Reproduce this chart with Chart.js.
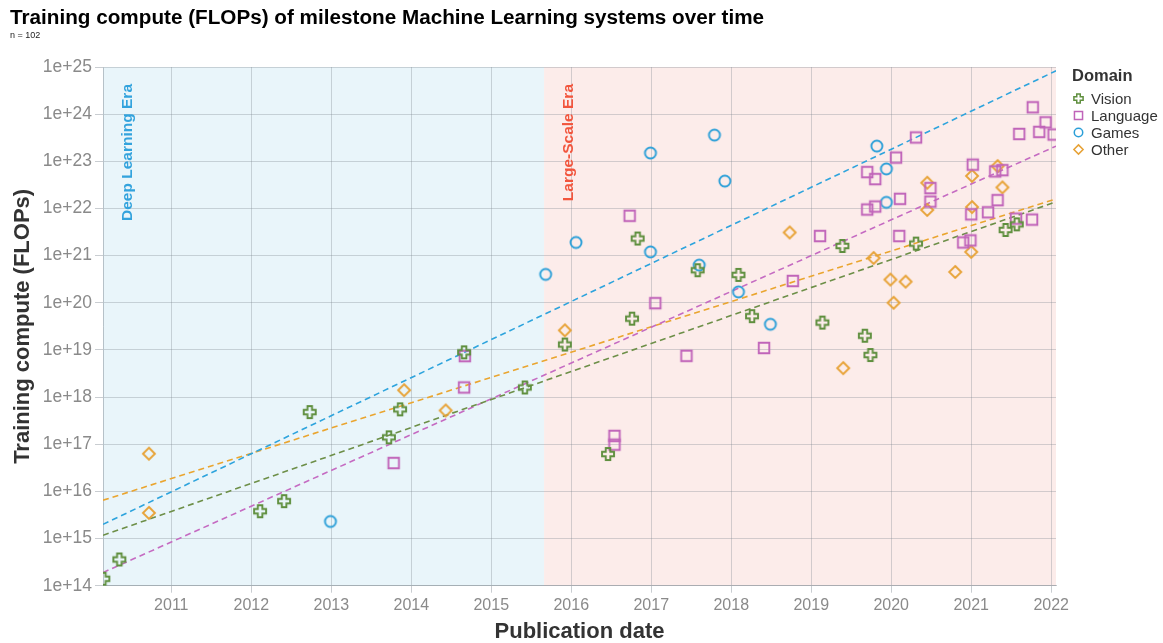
<!DOCTYPE html>
<html><head><meta charset="utf-8">
<script src="https://cdn.jsdelivr.net/npm/chart.js@4/dist/chart.umd.min.js"></script>
<style>
body{margin:0;background:#fff;font-family:"Liberation Sans",Arial,sans-serif;}
#wrap{position:relative;width:1163px;height:643px;overflow:hidden;}
#chart{position:absolute;left:0;top:0;}
#title{position:absolute;left:10px;top:5px;font-weight:bold;font-size:20.7px;color:#000;white-space:nowrap;}
#sub{position:absolute;left:10px;top:30px;font-size:9px;color:#222;}
#legend{position:absolute;left:1072px;top:65px;color:#333;}
#legend .h{font-weight:bold;font-size:16.5px;height:20px;line-height:20px;margin-bottom:5px;color:#333;}
#legend .it{position:relative;height:17px;line-height:17px;font-size:15px;padding-left:19px;white-space:nowrap;}
#legend canvas{position:absolute;left:0;top:2px;}
</style></head>
<body><div id="wrap">
<canvas id="chart" width="1163" height="643"></canvas>
<div id="title">Training compute (FLOPs) of milestone Machine Learning systems over time</div>
<div id="sub">n = 102</div>
<div id="legend"><div class="h">Domain</div></div>
</div>
<script>
// ---- data (publication date as decimal year, training compute in FLOPs) ----
const domains = ['Vision','Language','Games','Other'];
const visionX = [2010.15,2010.35,2012.11,2012.41,2012.73,2013.72,2013.86,2014.66,2015.42,2015.92,2016.46,2016.76,2016.83,2017.58,2018.09,2018.26,2019.14,2019.39,2019.67,2019.74,2020.31,2021.43,2021.57];
const visionY = [1.4e14,3.6e14,3.8e15,6.2e15,4.8e17,1.4e17,5.5e17,8.9e18,1.6e18,1.3e19,6.2e16,4.6e19,2.3e21,4.9e20,3.9e20,5.2e19,3.8e19,1.6e21,2.0e19,7.8e18,1.8e21,3.5e21,4.6e21];
const languageX = [2013.78,2014.67,2014.66,2016.54,2016.54,2016.73,2017.05,2017.44,2018.41,2018.77,2019.11,2019.70,2019.80,2019.70,2019.80,2020.06,2020.11,2020.10,2020.31,2020.49,2020.49,2020.90,2020.99,2021.00,2021.02,2021.21,2021.30,2021.39,2021.33,2021.56,2021.76,2021.60,2021.77,2021.85,2021.93,2022.03];
const languageY = [4e16,7.4e18,1.6e18,1.5e17,9.8e16,7e21,9.8e19,7.5e18,1.1e19,2.9e20,2.6e21,5.9e22,4.2e22,9.5e21,1.1e22,1.2e23,1.6e22,2.6e21,3.2e23,2.7e22,1.4e22,1.9e21,2.1e21,7.5e21,8.5e22,8.3e21,6.1e22,6.5e22,1.5e22,6.1e21,5.8e21,3.8e23,1.4e24,4.2e23,6.7e23,3.7e23];
const gamesX = [2012.99,2015.68,2016.06,2016.99,2016.99,2017.60,2017.79,2017.92,2018.09,2018.49,2019.82,2019.94,2019.94];
const gamesY = [2.3e15,4e20,1.9e21,1.5e23,1.2e21,6.3e20,3.6e23,3.8e22,1.7e20,3.5e19,2.1e23,6.9e22,1.35e22];
const otherX = [2010.72,2010.72,2013.91,2014.43,2015.92,2018.73,2019.40,2019.78,2019.99,2020.18,2020.03,2020.45,2020.45,2020.80,2021.01,2021.33,2021.39,2021.01,2021.00];
const otherY = [6.3e16,3.5e15,1.4e18,5.2e17,2.6e19,3.1e21,4.1e18,8.9e20,3.1e20,2.8e20,1.0e20,3.5e22,9.3e21,4.5e20,4.9e22,7.9e22,2.8e22,1.07e22,1.2e21];
// trend line end values at the left and right edge of the plot
const trendX = [2010.146, 2022.06];
const visionTrend = [1.17e15, 1.38e22];
const languageTrend = [1.9e14, 2.1e23];
const gamesTrend = [2.0e15, 8.3e24];
const otherTrend = [6.5e15, 1.6e22];
// axes
const xTickValues = [2011,2012,2013,2014,2015,2016,2017,2018,2019,2020,2021,2022];
const xTickLabels = ['2011','2012','2013','2014','2015','2016','2017','2018','2019','2020','2021','2022'];
const yTickValues = [1e14,1e15,1e16,1e17,1e18,1e19,1e20,1e21,1e22,1e23,1e24,1e25];
const yTickLabels = ['1e+14','1e+15','1e+16','1e+17','1e+18','1e+19','1e+20','1e+21','1e+22','1e+23','1e+24','1e+25'];
const eraBoundary = 2015.66;
const eras = ['Deep Learning Era','Large-Scale Era'];

// ---- styles ----
const COL = {Vision:'#5f8f3e', Language:'#c064b9', Games:'#2b9fd8', Other:'#e7a236'};
const TREND = {Vision:'#6d8f48', Language:'#c56bc2', Games:'#2ea4dd', Other:'#eaa52f'};

function marker(kind, color, s, lw){
  const c = document.createElement('canvas');
  const n = Math.ceil(s*2+lw*2+2);
  c.width = n; c.height = n;
  const g = c.getContext('2d');
  g.translate(n/2, n/2);
  g.strokeStyle = color; g.lineWidth = lw; g.lineJoin='miter';
  g.beginPath();
  if(kind==='Vision'){
    const L=s, a=s*0.38;
    const p=[[-a,-L],[a,-L],[a,-a],[L,-a],[L,a],[a,a],[a,L],[-a,L],[-a,a],[-L,a],[-L,-a],[-a,-a]];
    g.moveTo(p[0][0],p[0][1]); for(let i=1;i<p.length;i++) g.lineTo(p[i][0],p[i][1]); g.closePath();
  } else if(kind==='Language'){
    const h=s*0.88; g.rect(-h,-h,2*h,2*h);
  } else if(kind==='Games'){
    g.arc(0,0,s*0.92,0,Math.PI*2);
  } else {
    const h=s*1.0; g.moveTo(0,-h); g.lineTo(h,0); g.lineTo(0,h); g.lineTo(-h,0); g.closePath();
  }
  g.stroke();
  return c;
}

const pts = (xs, ys) => xs.map((x,i)=>({x:x, y:ys[i]}));
const series = {Vision:[visionX,visionY], Language:[languageX,languageY], Games:[gamesX,gamesY], Other:[otherX,otherY]};
const trends = {Vision:visionTrend, Language:languageTrend, Games:gamesTrend, Other:otherTrend};

const datasets = [];
domains.forEach(d=>{
  datasets.push({type:'scatter', label:d, data:pts(series[d][0], series[d][1]),
    pointStyle: marker(d, COL[d], 6, 1.9), pointRadius:6, clip:0, order:1});
});
domains.forEach(d=>{
  datasets.push({type:'line', label:d+' trend', data:pts(trendX, trends[d]),
    borderColor:TREND[d], borderWidth:1.6, borderDash:[6,4], pointRadius:0, fill:false, order:5});
});

// legend
const leg = document.getElementById('legend');
domains.forEach(d=>{
  const it = document.createElement('div'); it.className='it';
  const m = marker(d, COL[d], 4.6, 1.5);
  m.style.left = (6 - m.width/2) + 'px'; m.style.top = (8.5 - m.height/2) + 'px';
  it.appendChild(m);
  it.appendChild(document.createTextNode(d));
  leg.appendChild(it);
});

const eraPlugin = {
  id:'eras',
  beforeDraw(chart){
    const {ctx, chartArea:a, scales:{x}} = chart;
    const bx = x.getPixelForValue(eraBoundary);
    ctx.save();
    ctx.fillStyle = '#e9f5fa'; ctx.fillRect(a.left, a.top, bx-a.left, a.bottom-a.top);
    ctx.fillStyle = '#fcecea'; ctx.fillRect(bx, a.top, a.right-bx, a.bottom-a.top);
    ctx.restore();
  },
  beforeDatasetsDraw(chart){
    const {ctx, chartArea:a, scales:{x}} = chart;
    const bx = x.getPixelForValue(eraBoundary);
    ctx.save();
    ctx.font = 'bold 15.5px "Liberation Sans", Arial, sans-serif';
    ctx.textAlign = 'right'; ctx.textBaseline = 'middle';
    ctx.translate(a.left+24.5, a.top+17); ctx.rotate(-Math.PI/2);
    ctx.fillStyle = '#33a3dd'; ctx.fillText(eras[0], 0, 0);
    ctx.restore();
    ctx.save();
    ctx.font = 'bold 15.5px "Liberation Sans", Arial, sans-serif';
    ctx.textAlign = 'right'; ctx.textBaseline = 'middle';
    ctx.translate(bx+24.5, a.top+17); ctx.rotate(-Math.PI/2);
    ctx.fillStyle = '#f2553d'; ctx.fillText(eras[1], 0, 0);
    ctx.restore();
  }
};

const FONT = '"Liberation Sans", Arial, sans-serif';
new Chart(document.getElementById('chart'), {
  data:{datasets},
  options:{
    responsive:false, animation:false, events:[],
    layout:{padding:{top:67, right:107, left:0, bottom:0}},
    plugins:{legend:{display:false}, tooltip:{enabled:false}, title:{display:false}},
    scales:{
      x:{type:'linear', min:trendX[0], max:trendX[1],
        afterBuildTicks(s){ s.ticks = xTickValues.map(v=>({value:v})); },
        afterFit(s){ s.height = 57.3; },
        ticks:{callback:(v,i)=>xTickLabels[i], color:'#8a8a8a', font:{family:FONT, size:16}, padding:3, maxRotation:0, autoSkip:false},
        grid:{color:'rgba(120,130,140,0.32)', tickLength:7, tickColor:'rgba(120,130,140,0.4)'},
        border:{display:true, color:'rgba(120,130,140,0.45)'},
        title:{display:true, text:'Publication date', color:'#333', font:{family:FONT, size:22, weight:'bold', lineHeight:1}, padding:{top:0,bottom:0}}
      },
      y:{type:'logarithmic', min:yTickValues[0], max:yTickValues[yTickValues.length-1],
        afterBuildTicks(s){ s.ticks = yTickValues.map(v=>({value:v})); },
        afterFit(s){ s.width = 103; },
        ticks:{callback:(v,i)=>yTickLabels[i], color:'#8a8a8a', font:{family:FONT, size:17.5}, padding:3, autoSkip:false},
        grid:{color:'rgba(120,130,140,0.32)', tickLength:8, tickColor:'rgba(120,130,140,0.4)'},
        border:{display:true, color:'rgba(120,130,140,0.45)'},
        title:{display:true, text:'Training compute (FLOPs)', color:'#333', font:{family:FONT, size:22, weight:'bold', lineHeight:1}, padding:{top:12,bottom:0}}
      }
    }
  },
  plugins:[eraPlugin]
});
</script>
</body></html>
